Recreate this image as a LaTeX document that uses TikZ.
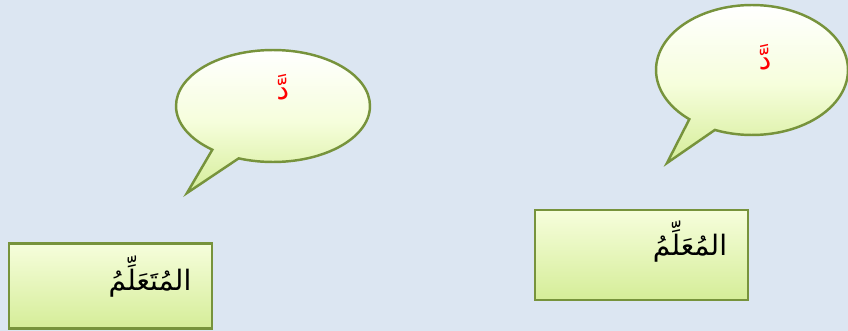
\documentclass[tikz,border=0pt]{standalone}
\usepackage{fontspec}
\newfontfamily\arabicfont[Script=Arabic]{DejaVu Sans}
\TeXXeTstate=1
\usetikzlibrary{shapes.callouts, shapes.geometric}

\definecolor{bgblue}{HTML}{DCE6F2}
\definecolor{oliveedge}{HTML}{77933C}
\definecolor{palelime}{HTML}{F6FEDC}
\definecolor{deeplime}{HTML}{D5ED98}

\begin{document}
\begin{tikzpicture}[x=0.02cm, y=-0.02cm, every node/.style={font=\arabicfont\fontsize{16}{18}\selectfont}]
  \tikzset{bubble/.style={ellipse callout, draw=oliveedge, line width=1.4pt, inner sep=0pt,
      top color=white, bottom color=deeplime, middle color=palelime, callout pointer arc=18}}
  \tikzset{namebox/.style={rectangle, draw=oliveedge, line width=1.4pt, inner sep=0pt,
      top color=palelime, bottom color=deeplime}}
  \tikzset{sound/.style={text=red}}
  \tikzset{word/.style={text=black}}
  \fill[bgblue] (0,0) rectangle (848,331);
  \useasboundingbox (0,0) rectangle (848,331);
  \coordinate (tipL) at (187,193);
  \coordinate (tipR) at (667,163);
  \node[bubble, minimum width=3.88cm, minimum height=2.24cm, callout absolute pointer={(tipL)}] (bubL) at (273,106) {};
  \node[bubble, minimum width=3.84cm, minimum height=2.6cm, callout absolute pointer={(tipR)}] (bubR) at (752,70) {};
  \node[namebox, minimum width=4.06cm, minimum height=1.7cm] (boxL) at (110.5,286) {};
  \node[namebox, minimum width=4.26cm, minimum height=1.8cm] (boxR) at (641.5,255) {};
  \node[sound] (sndL) at (283,87) {\beginR دَّ\endR};
  \node[sound] (sndR) at (765,57) {\beginR دَّ\endR};
  \node[word] (learner) at (150,277) {\beginR المُتَعَلِّمُ\endR};
  \node[word] (teacher) at (690,242) {\beginR المُعَلِّمُ\endR};
\end{tikzpicture}
\end{document}
